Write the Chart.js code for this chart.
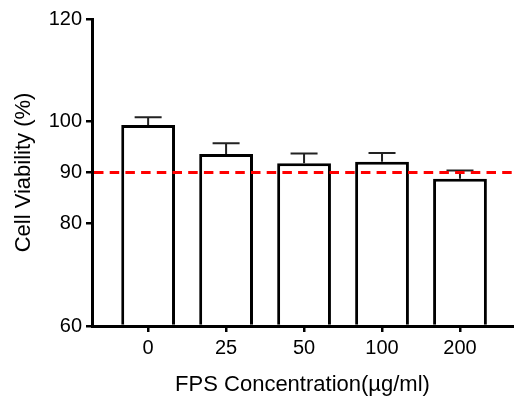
<!doctype html>
<html>
  <head>
    <title>Cell Viability</title>
    <script src="https://cdn.jsdelivr.net/npm/chart.js"></script>
    <style>
      body {
        margin: 0;
        background: #fff;
      }
      canvas {
        display: block;
      }
    </style>
  </head>
  <body>
    <canvas id="chart" width="514" height="405"></canvas>

    <script>
      // data
      const doses = ['0', '25', '50', '100', '200'];
      const viability = [99.3, 93.6, 91.8, 92.1, 88.8];
      const errors = [1.5, 2.1, 1.9, 1.7, 1.6];
      const yTicks = [60, 80, 90, 100, 120];
      const threshold = 90;

      const family = "'Liberation Sans', Arial, sans-serif";

      // upward-only SD whiskers
      const errorBars = {
        id: 'errorBars',
        afterDatasetsDraw(chart) {
          const { ctx, scales: { x, y } } = chart;
          ctx.save();
          ctx.strokeStyle = '#222';
          ctx.lineWidth = 2;
          viability.forEach((v, i) => {
            const px = x.getPixelForValue(i);
            const top = y.getPixelForValue(v + errors[i]);
            const bottom = y.getPixelForValue(v);
            ctx.beginPath();
            ctx.moveTo(px, bottom);
            ctx.lineTo(px, top);
            ctx.moveTo(px - 13.5, top);
            ctx.lineTo(px + 13.5, top);
            ctx.stroke();
          });
          ctx.restore();
        },
      };

      // red dashed reference line
      const refLine = {
        id: 'refLine',
        afterDatasetsDraw(chart) {
          const { ctx, chartArea, scales: { y } } = chart;
          const py = y.getPixelForValue(threshold);
          ctx.save();
          ctx.strokeStyle = '#f00';
          ctx.lineWidth = 3;
          ctx.setLineDash([9.5, 6.2]);
          ctx.beginPath();
          ctx.moveTo(chartArea.left + 2, py);
          ctx.lineTo(chartArea.right, py);
          ctx.stroke();
          ctx.restore();
        },
      };

      new Chart(document.getElementById('chart'), {
        type: 'bar',
        data: {
          datasets: [
            {
              data: viability.map((v, i) => ({ x: i, y: v })),
              base: 60,
              backgroundColor: '#fff',
              borderColor: '#000',
              borderWidth: 3,
              barPercentage: 0.69,
              categoryPercentage: 1,
            },
          ],
        },
        options: {
          responsive: false,
          animation: false,
          layout: { padding: { top: 19, right: 1, left: 0, bottom: 0 } },
          plugins: {
            legend: { display: false },
            tooltip: { enabled: false },
          },
          scales: {
            x: {
              type: 'linear',
              offset: false,
              min: -0.72,
              max: 4.68,
              afterBuildTicks: (s) => {
                s.ticks = doses.map((d, i) => ({ value: i }));
              },
              afterFit: (s) => {
                s.height = 79;
              },
              ticks: {
                callback: (v) => doses[v],
                color: '#000',
                font: { family, size: 20 },
                padding: 4,
                maxRotation: 0,
              },
              grid: {
                offset: false,
                drawOnChartArea: false,
                tickLength: 6,
                color: '#000',
                lineWidth: 2.5,
              },
              border: { color: '#000', width: 3 },
              title: {
                display: true,
                text: 'FPS Concentration(µg/ml)',
                color: '#000',
                font: { family, size: 22 },
                padding: { top: 0, bottom: 7 },
              },
            },
            y: {
              min: 60,
              max: 120,
              afterBuildTicks: (s) => {
                s.ticks = yTicks.map((t) => ({ value: t }));
              },
              afterFit: (s) => {
                s.width = 92;
              },
              ticks: {
                color: '#000',
                font: { family, size: 20 },
                padding: 4,
              },
              grid: {
                drawOnChartArea: false,
                tickLength: 6,
                color: '#000',
                lineWidth: 2.5,
              },
              border: { color: '#000', width: 3 },
              title: {
                display: true,
                text: 'Cell Viability (%)',
                color: '#000',
                font: { family, size: 22 },
                padding: { top: 11, bottom: 0 },
              },
            },
          },
        },
        plugins: [errorBars, refLine],
      });
    </script>
  </body>
</html>
